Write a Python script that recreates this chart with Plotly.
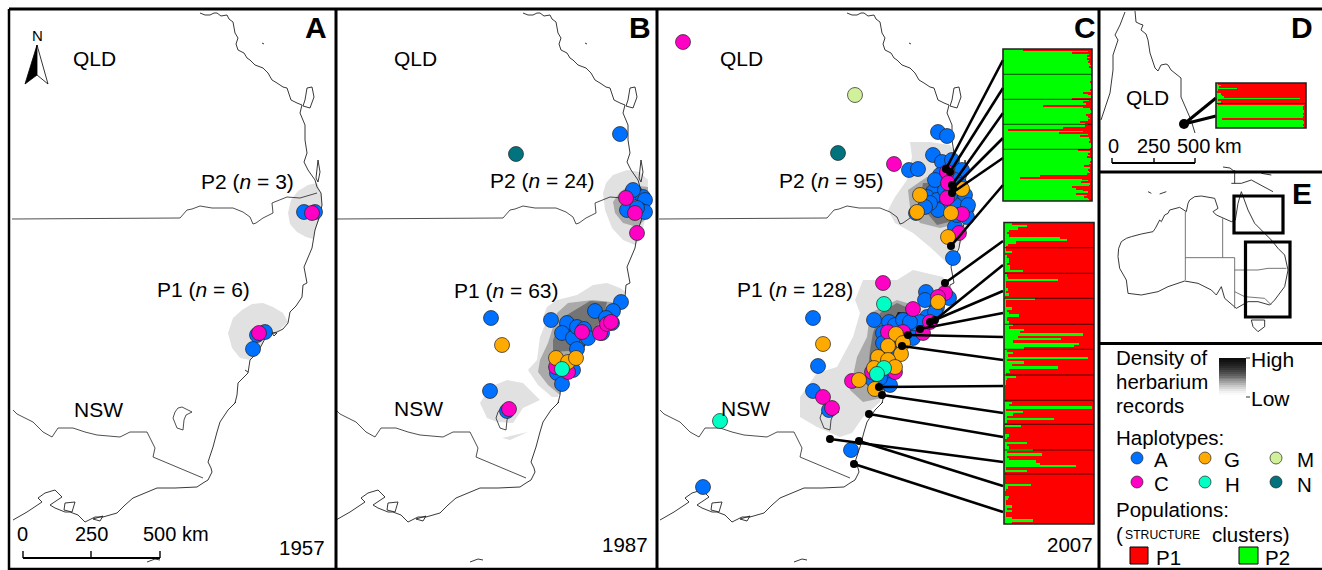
import plotly.graph_objects as go

W, H = 1322, 570
FONT = "Liberation Sans"
BLUE, MAGENTA, ORANGE, TEAL, PALE, DTEAL = "#0070FF", "#FF00C5", "#FFAA00", "#00FFC5", "#D1F09A", "#00737F"
LIGHT, MID, DARK, DARKEST = "#E1E1E1", "#AAAAAA", "#747474", "#151515"
RED, GREEN = "#FF0000", "#00FF00"

# map geometry (panel A frame; None breaks paths)
COAST_X = [200,205,210,214,217,221,227,229,233,234,235,238,236,238,244,247,250,255,258,263,268,272,277,283,287,289,291,297,302,300,305,305,307,304,308,315,317,321,322,320,315,312,308,304,307,303,302,296,290,288,283,277,270,267,260,255,250,248,243,238,237,235,228,220,217,213,208,211,212,208,203,197,175,157,133,125,117,103,95,85,78,70,65,55,50,62,55,45,38,42,27,13]
COAST_Y = [13,15,15,13,13,16,15,19,22,28,33,38,44,50,53,58,60,65,66,68,73,80,83,87,88,95,100,103,105,113,125,140,153,162,170,180,187,193,205,215,230,248,258,267,283,285,297,306,312,323,329,332,334,335,348,355,360,373,378,383,395,403,410,422,432,447,462,468,472,480,483,487,488,488,498,505,513,517,517,522,515,512,512,508,505,497,490,493,498,502,512,520]
BAY_X = [303,305,307,312,314,310,303,None,316,318,320,318,316,None,65,75,72,64,65,None,93,103,100,93,None,147,155,160,None,272,277,274,272,None,262,264,None,233,236,None,245,248]
BAY_Y = [106,100,88,87,97,108,106,None,178,160,172,182,178,None,503,502,512,510,503,None,519,516,521,519,None,562,559,560,None,333,333,336,333,None,43,44,None,405,402,None,370,372]
QN_BORDER_X = [12,180,187,192,200,212,233,243,250,253,256,263,273,272,287,300,317]
QN_BORDER_Y = [219,218,210,209,206,208,208,212,217,224,223,218,213,203,197,198,193]
NV_BORDER_X = [13,17,33,43,52,58,73,85,97,120,130,147,151,155,153,203]
NV_BORDER_Y = [410,414,422,432,437,428,428,432,435,437,432,432,440,448,457,478]
LAKE_X = [175,178,182,188,192,186,184,183,177,173,175]
LAKE_Y = [412,408,407,410,412,415,420,430,428,418,412]
MAP_OFFSETS = [0, 323, 647]

# density polygons: (colour, xs, ys)
DENSITY = [
 # panel A
 (LIGHT,[317,308,298,291,288,290,297,306,313,315,320,322,321],[183,185,191,200,213,224,232,237,239,230,218,205,193]),
 (LIGHT,[288,283,273,263,252,242,233,228,232,240,250,260,267,277],[322,313,307,303,304,310,318,333,348,358,360,348,335,332]),
 # panel B
 (LIGHT,[603,606,613,627,640,648,647,645,640,635,623,612,605],[193,183,175,170,172,180,203,220,240,245,240,228,210]),
 (MID,[613,620,630,648,648,637,623,615],[202,192,185,187,217,227,223,213]),
 (LIGHT,[547,557,577,593,607,620,626,620,611,590,583,573,571,561,558,552,538,528,537,540,545,543],[307,300,295,285,283,288,292,303,323,335,348,360,373,383,397,397,385,370,360,337,325,317]),
 (MID,[557,568,593,620,613,590,583,573,571,561,560,548,538,540,548,553],[313,303,300,303,323,335,348,360,373,383,395,385,372,360,343,327]),
 (DARK,[553,562,575,590,607,603,595,583,553],[340,318,310,301,302,317,330,350,352]),
 (LIGHT,[480,490,507,523,540,523,513,497,487],[403,387,380,383,400,408,423,422,418]),
 (LIGHT,[502,528,510],[438,432,440]),
 # panel C
 (LIGHT,[910,930,950,962,970,969,965,957,950,947,930,913,895,888,895,907,912],[142,142,145,165,195,215,235,250,265,263,247,233,223,210,197,180,157]),
 (MID,[927,940,970,960,940,920,910,908],[177,180,200,223,228,223,207,190]),
 (DARK,[923,960,970,957,937,927,920],[183,183,203,220,225,213,200]),
 (LIGHT,[913,897,863,855,860,853,837,817,800,800,817,840,852,863,880,882,885,895,897,907,914,925,937,949,950,943],[270,280,280,300,313,337,367,373,397,417,427,437,433,417,402,395,383,373,360,348,335,333,320,297,290,277]),
 (MID,[870,897,920,910,900,887,882,863,850,857,867],[313,300,307,330,367,390,398,402,390,357,337]),
 (DARK,[880,897,913,910,893,880,867,870,873],[313,303,310,337,370,383,380,350,333]),
 (DARKEST,[898,910,897,883,877,887],[312,313,343,350,347,333]),
]

# haplotype points per panel
A_X = [304,315,265,257,253]; A_Y = [212,212,332,335,349]
C_X = [312,259]; C_Y = [213,333]
B_A_X = [491,490,507,634,632,643,645,627,640,645,633,637,620,621,613,595,606,612,551,567,562,573,577,584,588,577,557,573,562,602]
B_A_Y = [318,391,411,192,193,197,200,210,210,212,190,208,134,302,311,311,318,323,320,323,333,338,327,329,338,349,373,370,384,333]
B_C_X = [509,626,635,637,582,600,607,611,568,556]
B_C_Y = [409,198,213,233,332,333,324,322,372,367]
B_G_X = [502,556,568,576]; B_G_Y = [345,358,362,358]
B_H_X = [562]; B_H_Y = [369]
B_N_X = [516]; B_N_Y = [154]
CC_A_X = [938,947,933,942,952,909,918,940,962,933,927,937,947,960,967,967,943,916,955,953,949,926,874,889,937,927,915,905,883,913,885,873,883,895,813,818,813,829,851,703,955,945,935,960,965,955,938,950,930,957,968,925,895,903,925,935,920,910,900,893,885,890,880]
CC_A_Y = [132,136,155,162,160,170,169,175,170,192,197,200,203,197,208,217,208,213,227,258,298,292,320,322,307,317,327,327,333,338,382,380,343,348,318,366,391,410,450,487,180,190,180,185,195,205,210,195,203,215,205,207,325,320,300,312,322,322,340,357,375,385,378]
CC_C_X = [894,947,948,947,962,959,683,883,945,938,913,888,903,923,930,872,895,852,823,832]
CC_C_Y = [164,172,183,198,214,233,42,283,293,297,309,332,332,333,322,372,372,381,397,408]
CC_G_X = [920,917,951,948,962,938,896,903,888,901,878,888,895,874,875,823,859]
CC_G_Y = [195,212,213,237,189,302,334,343,346,354,357,360,367,368,389,344,380]
CC_H_X = [884,720,884,877]; CC_H_Y = [304,421,368,374]
CC_M_X = [855]; CC_M_Y = [95]
CC_N_X = [838]; CC_N_Y = [153]

# sample sites and links to the cluster plots
SITE_X = [946,950,952,953,952,951,945,935,930,920,908,902,879,882,869,830,859,854]
SITE_Y = [169,172,185,188,193,246,283,320,322,329,335,346,387,395,414,439,441,464]
LINK_Y = [60,88,113,138,158,185,241,265,291,313,337,360,386,413,437,462,486,512]
LINK_X = 1003

# STRUCTURE ancestry fractions
P2_RED = [.77,.05,.22,.03,.06,.02,.06,.03,.04,.02, .01,.03,.01,.01,.01,.01,.01,.01,.01,.01,
          .02,.01,.01,.01,.01,.02,.01,.10,.04,.01, .01,.23,.03,.10,.07,.55,.10,.02,.01,.01,
          .02,.07,.04,.02,.05,.14,.08,.04,.08,.33, .94,.10,.37,.04,.14,.03,.02,.02,.03,.01,
          .01,.01,.02,.16,.02,.05,.02,.06,.01,.01, .02,.01,.03,.09,.02,.05,.03,.02,.06,.58,
          .81,.11,.04,.12,.02,.03,.22,.18,.10,.05, .18,.06,.09,.04,.03]
P1_GREEN = [.09,.25,.16,.05,.03,.06,.62,.70,.13,.04,.02, .02,.09,.01,.03,.06,.06,.03,.07,.07,.21,.01,
            .03,.04,.60,.02,.02,.02,.04,.02,.05,.01, .34,.02,.02,.02,.09,.03,.05,.17,.03,.03,.06,
            .10,.05,.22,.18,.88,.16,.63,.10,.83,.78,.22,.03, .10,.04,.93,.03,.22,.09,.60,.05,.07,.02,
            .13,.03,.02,.02,.01,.01,.01,.01,.01,.01,.01, .09,.05,.98,.02,.21,.10,.03,.55,.03,.01,
            .19,.01,.01,.01,.05,.03,.01,.25,.03,.05, .32,.03,.42,.03,.06,.36,.40,.80,.02,.25,.01,.01,.01,
            .01,.01,.30,.04,.02,.01,.01,.06,.04,.02,.02,.09,.03,.09,.02,.02,.09,.32,.09]
D_GREEN = [.02,.05,.03,.23,.02,.01,.05,.07,.09,.93,.02,.06,.02,
           .98,.97,.97,.98,.98,.97,.98,.97,.07,.97,.98,.98,.97,.98]
P2_BOX = (1003,1092,49,201); P2_SEPS = [74.3,99.3,124.3,149.3]
P1_BOX = (1004,1094,222.5,524); P1_SEPS = [247.7,273.3,298.3,324.3,349.3,375,400.3,424.3,450,474]
D_BOX = (1216,1306,83,128); D_SEPS = [103.5]

# panel D / E outlines
D_COAST_X = [1135,1136,1140,1143,1141,1146,1148,1150,1155,1158,1161,1166,1168,1171,1176,1181,1181,1186,1191,1195,None,1125,1120,1115,1118,1113,1113,1110,1101,None,1223,1230,1235]
D_COAST_Y = [11,22,24,25,30,34,40,53,68,71,65,64,65,70,74,78,97,108,120,133,None,12,25,35,40,55,70,93,120,None,167,168,172]
E_OZ_X = [60,62,70,85,100,130,165,172,185,190,200,210,215,230,245,265,270,275,290,310,350,360,345,355,375,400,412,420,430,440,450,470,490,520,540,560,570,565,560,530,515,480,450,415,380,370,355,340,300,260,210,180,130,90,85,65,60]
E_OZ_Y = [260,235,215,205,200,192,185,175,150,155,135,130,120,115,112,125,100,90,80,78,85,115,125,135,145,155,150,100,65,95,120,160,180,210,235,255,300,325,350,390,405,395,395,415,385,350,375,360,340,333,350,365,375,370,330,295,260]
E_BORDER_X = [262,262,None,262,410,410,None,374,374,None,410,480,510,565,None,410,440,500,520]
E_BORDER_Y = [125,330,None,263,263,415,None,145,263,None,300,300,295,295,None,365,380,385,405]
E_ISLES_X = [460,500,500,480,465,460,None,400,430,460,495,525,None,410,410,None,490,520,None,150,160,None,185,205]
E_ISLES_Y = [450,450,470,485,470,450,None,40,40,30,50,65,None,0,40,None,10,15,None,65,70,None,72,65]
GRAD_LEVELS = [.05,.07,.1,.13,.17,.21,.26,.31,.37,.43,.5,.57,.64,.71,.78,.84,.9,.95,.98,1]

fig = go.Figure()

def poly(xs, ys, color, lc=None, lw=0, fill=True):
    fig.add_trace(go.Scatter(x=xs, y=ys, mode="lines", fill="toself" if fill else None,
                             fillcolor=color if fill else None,
                             line=dict(color=lc or color, width=lw), hoverinfo="skip", connectgaps=False))

for c, xs, ys in DENSITY:
    poly(xs, ys, c)

for off in MAP_OFFSETS:
    for xs, ys, w in [(COAST_X, COAST_Y, .9), (BAY_X, BAY_Y, .9), (QN_BORDER_X, QN_BORDER_Y, .8),
                      (NV_BORDER_X, NV_BORDER_Y, .8), (LAKE_X, LAKE_Y, .8)]:
        fig.add_trace(go.Scatter(x=[None if v is None else v + off for v in xs], y=ys, mode="lines",
                                 line=dict(color="#222222", width=w), hoverinfo="skip"))

def dots(xs, ys, color, size=15):
    fig.add_trace(go.Scatter(x=xs, y=ys, mode="markers", hoverinfo="skip",
                             marker=dict(color=color, size=size, line=dict(color="#222222", width=.7))))

for xs, ys, col in [(A_X, A_Y, BLUE), (C_X, C_Y, MAGENTA), (B_A_X, B_A_Y, BLUE), (B_C_X, B_C_Y, MAGENTA),
                    (B_G_X, B_G_Y, ORANGE), (B_H_X, B_H_Y, TEAL), (B_N_X, B_N_Y, DTEAL),
                    (CC_A_X, CC_A_Y, BLUE), (CC_C_X, CC_C_Y, MAGENTA), (CC_G_X, CC_G_Y, ORANGE),
                    (CC_H_X, CC_H_Y, TEAL), (CC_M_X, CC_M_Y, PALE), (CC_N_X, CC_N_Y, DTEAL)]:
    dots(xs, ys, col)

# links
lx, ly = [], []
for sx, sy, ty in zip(SITE_X, SITE_Y, LINK_Y):
    lx += [sx, LINK_X, None]; ly += [sy, ty, None]
fig.add_trace(go.Scatter(x=lx, y=ly, mode="lines", line=dict(color="black", width=2.6), hoverinfo="skip"))
fig.add_trace(go.Scatter(x=SITE_X, y=SITE_Y, mode="markers", marker=dict(color="black", size=8), hoverinfo="skip"))

# cluster plots
def cluster(box, green, seps):
    x0, x1, y0, y1 = box
    n = len(green); h = (y1 - y0) / n; w = x1 - x0
    ys = [y0 + (i + .5) * h for i in range(n)]
    gw = [g * w for g in green]
    fig.add_trace(go.Bar(y=ys, x=gw, base=[x0] * n, orientation="h", width=h, marker=dict(color=GREEN, line=dict(width=0)), hoverinfo="skip"))
    fig.add_trace(go.Bar(y=ys, x=[w - g for g in gw], base=[x0 + g for g in gw], orientation="h", width=h, marker=dict(color=RED, line=dict(width=0)), hoverinfo="skip"))
    for s in seps:
        fig.add_shape(type="line", x0=x0, x1=x1, y0=s, y1=s, line=dict(color="rgba(0,0,0,.7)", width=1))
    fig.add_shape(type="rect", x0=x0, x1=x1, y0=y0, y1=y1, line=dict(color="#222222", width=1.6))

cluster(P2_BOX, [1 - v for v in P2_RED], P2_SEPS)
cluster(P1_BOX, P1_GREEN, P1_SEPS)
cluster(D_BOX, D_GREEN, D_SEPS)

# panel D
fig.add_trace(go.Scatter(x=D_COAST_X, y=D_COAST_Y, mode="lines", line=dict(color="#222222", width=.9), hoverinfo="skip"))
fig.add_trace(go.Scatter(x=[1184, 1216, None, 1184, 1216], y=[124, 98, None, 124, 116], mode="lines", line=dict(color="black", width=3), hoverinfo="skip"))
fig.add_trace(go.Scatter(x=[1184], y=[124], mode="markers", marker=dict(color="black", size=10), hoverinfo="skip"))

# panel E
def ex(v): return [None if a is None else 1098 + a / 3 for a in v]
def ey(v): return [None if a is None else 170 + a / 3 for a in v]
fig.add_trace(go.Scatter(x=ex(E_OZ_X), y=ey(E_OZ_Y), mode="lines", line=dict(color="#222222", width=.9), hoverinfo="skip"))
fig.add_trace(go.Scatter(x=ex(E_BORDER_X), y=ey(E_BORDER_Y), mode="lines", line=dict(color="#666666", width=.9), hoverinfo="skip"))
fig.add_trace(go.Scatter(x=ex(E_ISLES_X), y=ey(E_ISLES_Y), mode="lines", line=dict(color="#222222", width=.9), hoverinfo="skip"))
fig.add_shape(type="rect", x0=1234, x1=1283, y0=196, y1=233, line=dict(color="black", width=3.2))
fig.add_shape(type="rect", x0=1245.5, x1=1290, y0=242, y1=317, line=dict(color="black", width=3.2))

# legend gradient + symbols
n = len(GRAD_LEVELS)
fig.add_trace(go.Heatmap(x=[1219, 1246], y=[358 + i * 39 / n for i in range(n + 1)], z=[[v] for v in GRAD_LEVELS],
                         colorscale=[[0, "#000000"], [1, "#FFFFFF"]], zmin=0, zmax=1, showscale=False, hoverinfo="skip"))
for x, y, c in [(1137,458,BLUE),(1205,458,ORANGE),(1276,458,PALE),(1137,482,MAGENTA),(1205,482,TEAL),(1276,482,DTEAL)]:
    dots([x], [y], c, 12)
for x0, x1, c in [(1130,1148,RED),(1239,1258,GREEN)]:
    fig.add_shape(type="rect", x0=x0, x1=x1, y0=547, y1=564, fillcolor=c, line=dict(color="black", width=1))
for y in (358, 397):
    fig.add_shape(type="line", x0=1246, x1=1250, y0=y, y1=y, line=dict(color="#333333", width=1))

# north arrow
poly([37,25,37,37], [45,84,75,45], "black", "black", .8)
poly([37,48,37,37], [45,84,75,45], "white", "black", .8)

# scale bars
for x in [(23,160,[23,91,160],558,551), (1112,1195,[1112,1154,1195],163,158)]:
    x0, x1, ticks, yb, yt = x
    fig.add_shape(type="line", x0=x0, x1=x1, y0=yb, y1=yb, line=dict(color="black", width=1.8))
    for t in ticks:
        fig.add_shape(type="line", x0=t, x1=t, y0=yb, y1=yt, line=dict(color="black", width=1.4))

# frames
for a, b, c, d, w in [(9,1322,9,9,3),(9,9,9,570,2.5),(336,336,9,570,3),(657,657,9,570,3),(1099,1099,9,570,3),
                      (1099,1322,172,172,3),(1099,1322,343.5,343.5,3),(9,1322,569,569,2.5)]:
    fig.add_shape(type="line", x0=a, x1=b, y0=c, y1=d, line=dict(color="black", width=w))

TEXTS = [
 ("QLD",94,58,21,"center"),("QLD",415,58,21,"center"),("QLD",741,58,21,"center"),("QLD",1147,97,21,"center"),
 ("NSW",98,409,21,"center"),("NSW",418,408,21,"center"),("NSW",745,408,21,"center"),
 ("P2 (<i>n</i> = 3)",247,181,21,"center"),("P1 (<i>n</i> = 6)",203,289,21,"center"),
 ("P2 (<i>n</i> = 24)",542,180,21,"center"),("P1 (<i>n</i> = 63)",506,290,21,"center"),
 ("P2 (<i>n</i> = 95)",831,180,21,"center"),("P1 (<i>n</i> = 128)",795,289,21,"center"),
 ("N",37,35,15,"center"),
 ("0",22,534,20,"center"),("250",91,534,20,"center"),("500",159,534,20,"center"),("km",195,534,20,"center"),
 ("1957",302,547,20.5,"center"),("1987",625,544,20.5,"center"),("2007",1070,544,20.5,"center"),
 ("0",1113,146,20,"center"),("250",1153,146,20,"center"),("500",1193.5,146,20,"center"),("km",1228,146,20,"center"),
 ("Density of",1115,357,20.5,"left"),("herbarium",1115,381,20.5,"left"),("records",1115,405,20.5,"left"),
 ("High",1250,359,21,"left"),("Low",1250,398,21,"left"),
 ("Haplotypes:",1115,437,20.5,"left"),
 ("A",1161,459,20.5,"center"),("G",1232,459,20.5,"center"),("M",1305,459,20.5,"center"),
 ("C",1161,483,20.5,"center"),("H",1232,484,20.5,"center"),("N",1304,484,20.5,"center"),
 ("Populations:",1115,509,20.5,"left"),
 ("(",1115,534,20.5,"left"),("STRUCTURE",1124,535,12.2,"left"),("clusters)",1211,534,20.5,"left"),
 ("P1",1155,557,20.5,"left"),("P2",1264,557,20.5,"left"),
]
for t, x, y, s, anc in TEXTS:
    fig.add_annotation(x=x, y=y, text=t, showarrow=False, xanchor=anc, yanchor="middle",
                       font=dict(family=FONT, size=s, color="black"), borderpad=0)
for t, x, y in [("A",316,27),("B",640,27),("C",1085,27),("D",1302,27),("E",1302,193)]:
    fig.add_annotation(x=x, y=y, text=f"<b>{t}</b>", showarrow=False, font=dict(family=FONT, size=30, color="black"))

fig.update_layout(width=W, height=H, margin=dict(l=0, r=0, t=0, b=0), showlegend=False,
                  paper_bgcolor="white", plot_bgcolor="white", barmode="overlay", bargap=0,
                  xaxis=dict(range=[0, W], visible=False, fixedrange=True),
                  yaxis=dict(range=[H, 0], visible=False, fixedrange=True))
fig.write_html("out.html", config=dict(displayModeBar=False),
               post_script="document.body.style.margin='0';")
